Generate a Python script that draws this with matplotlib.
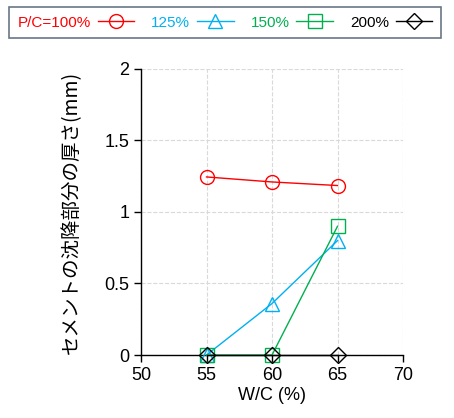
import matplotlib
matplotlib.use("Agg")
import matplotlib.pyplot as plt

plt.rcParams['font.family'] = ['Liberation Sans', 'Noto Sans CJK JP', 'DejaVu Sans']

wc = [55, 60, 65]
series_labels = ["P/C=100%", "125%", "150%", "200%"]
thick_100 = [1.245, 1.21, 1.185]
thick_125 = [0.0, 0.36, 0.80]
thick_150 = [0.0, 0.0, 0.90]
thick_200 = [0.0, 0.0, 0.0]
xticks = [50, 55, 60, 65, 70]
yticks = [0, 0.5, 1, 1.5, 2]
ytick_labels = ["0", "0.5", "1", "1.5", "2"]

fig = plt.figure(figsize=(4.54, 4.18), dpi=100)
ax = fig.add_axes([0.3106, 0.1507, 0.5771, 0.6843])

styles = [
    (thick_100, '#FF0000', 'o'),
    (thick_125, '#00B0F0', '^'),
    (thick_150, '#00B050', 's'),
    (thick_200, '#000000', 'D'),
]
handles = []
for (vals, col, mk), lab in zip(styles, series_labels):
    ms = 8 if mk == 'D' else 10
    h, = ax.plot(wc, vals, color=col, marker=mk, markersize=ms, markerfacecolor='none',
                 markeredgecolor=col, markeredgewidth=1.0, linewidth=1.0, label=lab,
                 clip_on=False, zorder=3)
    handles.append(h)

ax.set_xlim(50, 70)
ax.set_ylim(0, 2)
ax.set_xticks(xticks)
ax.set_yticks(yticks)
ax.set_yticklabels(ytick_labels)
ax.grid(True, color='#D9D9D9', linestyle='--', linewidth=0.8)
ax.set_axisbelow(True)
for s in ['top', 'right']:
    ax.spines[s].set_visible(False)
for s in ['left', 'bottom']:
    ax.spines[s].set_linewidth(1.0)
ax.tick_params(direction='out', length=5, width=1.0, labelsize=13, colors='black')
ax.set_xlabel('W/C (%)', fontsize=13, labelpad=2)
ax.set_ylabel('セメントの沈降部分の厚さ(mm)', fontsize=14,
              family=['Noto Sans CJK JP', 'Liberation Sans'], labelpad=16)

leg = fig.legend(handles=handles, labels=series_labels, loc='upper center',
                 bbox_to_anchor=(0.4956, 0.983), ncol=4, markerfirst=False,
                 fontsize=11, frameon=True, fancybox=False, handlelength=2.4,
                 columnspacing=1.1, handletextpad=0.45, borderpad=0.55, borderaxespad=0)
leg.get_frame().set_edgecolor('#44546A')
leg.get_frame().set_linewidth(1.2)
for t, (vals, col, mk) in zip(leg.get_texts(), styles):
    t.set_color(col)

fig.savefig('out.png', dpi=100)
